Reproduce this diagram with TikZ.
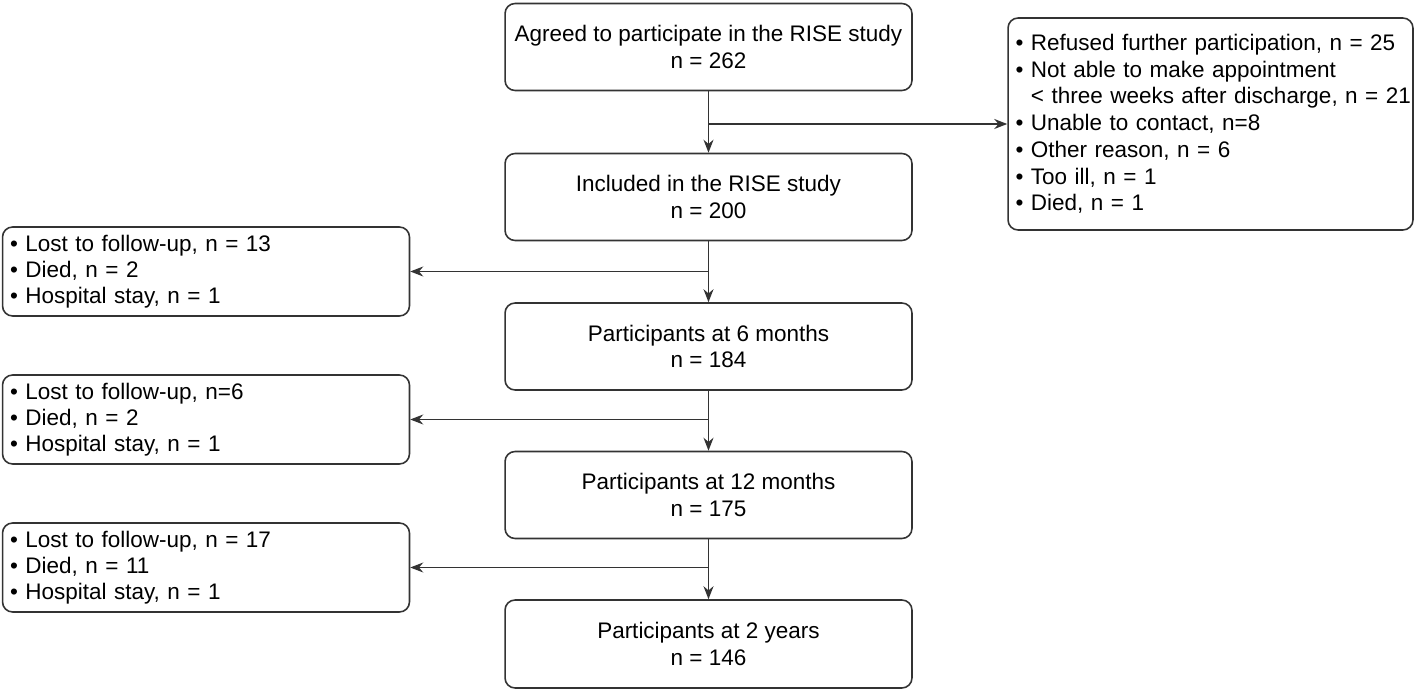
\documentclass[tikz,border=0pt]{standalone}
\usepackage{fontspec}
\setmainfont{Liberation Sans}
\usetikzlibrary{arrows.meta}
\definecolor{linegray}{HTML}{333333}
\tikzset{
  mainbox/.style={draw=linegray,rounded corners=0.2cm,line width=0.9pt,align=center,
    minimum width=8.14cm,minimum height=1.74cm,inner sep=0pt},
  listbox/.style={draw=linegray,rounded corners=0.2cm,line width=0.9pt,align=left,
    text width=7.84cm,inner xsep=0.15cm,inner ysep=0pt,minimum height=1.78cm},
  flow/.style={draw=linegray,line width=0.9pt,-{Stealth[length=0.26cm,width=0.2cm]}}
}
\newcommand{\itm}{\textbullet\ }
\begin{document}
\begin{tikzpicture}[x=0.02cm,y=-0.02cm,font=\fontsize{12.8}{14.9}\selectfont]
\useasboundingbox (0,0) rectangle (1418,692);
% main column
\node[mainbox] (agreed) at (708.5,47) {Agreed to participate in the RISE study\\n = 262};
\node[mainbox] (incl) at (708.5,197) {Included in the RISE study\\n = 200};
\node[mainbox] (m6) at (708.5,346.5) {Participants at 6 months\\n = 184};
\node[mainbox] (m12) at (708.5,495) {Participants at 12 months\\n = 175};
\node[mainbox,minimum height=1.76cm] (y2) at (708.5,644) {Participants at 2 years\\n = 146};
% exclusions
\node[listbox,text width=7.8cm,minimum height=4.24cm,
      font=\fontsize{12.8}{15.2}\selectfont] (excl) at (1210.5,124)
  {\itm Refused further participation, n = 25\\
   \itm Not able to make appointment\\
   \mbox{\phantom{\itm}< three weeks after discharge, n = 21}\\
   \itm Unable to contact, n=8\\
   \itm Other reason, n = 6\\
   \itm Too ill, n = 1\\
   \itm Died, n = 1};
\node[listbox] (lossA) at (206,271.5)
  {\itm Lost to follow-up, n = 13\\\itm Died, n = 2\\\itm Hospital stay, n = 1};
\node[listbox] (lossB) at (206,419.5)
  {\itm Lost to follow-up, n=6\\\itm Died, n = 2\\\itm Hospital stay, n = 1};
\node[listbox] (lossC) at (206,567.5)
  {\itm Lost to follow-up, n = 17\\\itm Died, n = 11\\\itm Hospital stay, n = 1};
% arrows
\draw[flow] (agreed) -- (incl);
\draw[flow] (incl) -- (m6);
\draw[flow] (m6) -- (m12);
\draw[flow] (m12) -- (y2);
\coordinate (b0) at (agreed.south |- excl.west);
\coordinate (b1) at (incl.south |- lossA.east);
\coordinate (b2) at (m6.south |- lossB.east);
\coordinate (b3) at (m12.south |- lossC.east);
\draw[flow] (b0) -- (excl.west);
\draw[flow] (b1) -- (lossA.east);
\draw[flow] (b2) -- (lossB.east);
\draw[flow] (b3) -- (lossC.east);
\end{tikzpicture}
\end{document}
